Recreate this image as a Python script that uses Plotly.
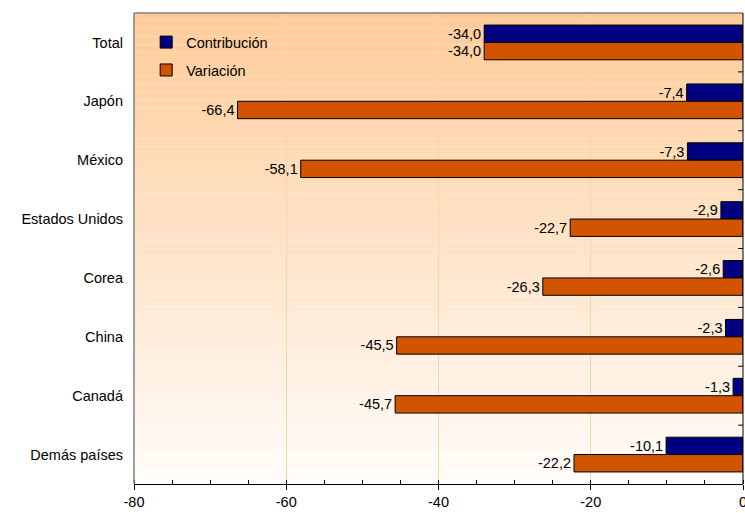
import plotly.graph_objects as go

categories = ["Total", "Japón", "México", "Estados Unidos", "Corea", "China", "Canadá", "Demás países"]
contribucion = [-34.0, -7.4, -7.3, -2.9, -2.6, -2.3, -1.3, -10.1]
variacion = [-34.0, -66.4, -58.1, -22.7, -26.3, -45.5, -45.7, -22.2]
x_ticks = [-80, -60, -40, -20, 0]

FONT = "Liberation Sans, Arial, sans-serif"

def fmt(v):
    return f"{v:.1f}".replace(".", ",")

fig = go.Figure()
fig.add_trace(go.Bar(
    y=categories, x=contribucion, orientation="h", name="Contribución",
    legendgroup="c",
    marker=dict(color="#000080", line=dict(color="#000000", width=1)),
    text=[fmt(v) for v in contribucion], textposition="outside",
    textfont=dict(family=FONT, size=14.5, color="#000000"), cliponaxis=False,
))
fig.add_trace(go.Bar(
    y=categories, x=variacion, orientation="h", name="Variación",
    legendgroup="v",
    marker=dict(color="#D35400", line=dict(color="#000000", width=1)),
    text=[fmt(v) for v in variacion], textposition="outside",
    textfont=dict(family=FONT, size=14.5, color="#000000"), cliponaxis=False,
))

# vertical gradient background
shapes = []
n = 60
top = (255, 204, 153)
bot = (255, 252, 249)
for i in range(n):
    t = i / (n - 1)
    c = tuple(round(top[k] + (bot[k] - top[k]) * t) for k in range(3))
    shapes.append(dict(type="rect", xref="paper", yref="paper", layer="below",
                       x0=0, x1=1, y0=1 - (i + 1) / n, y1=1 - i / n,
                       fillcolor=f"rgb{c}", line=dict(width=0)))
# plot border: gray left/top, black right (value axis at 0)
shapes.append(dict(type="line", xref="paper", yref="paper", x0=0, x1=0, y0=0, y1=1,
                   line=dict(color="#808080", width=1.5)))
shapes.append(dict(type="line", xref="paper", yref="paper", x0=0, x1=1, y0=1, y1=1,
                   line=dict(color="#808080", width=1.5)))
shapes.append(dict(type="line", xref="paper", yref="paper", x0=1, x1=1, y0=0, y1=1,
                   line=dict(color="#000000", width=1)))
# category separator ticks on the zero axis
for i in range(len(categories) - 1):
    shapes.append(dict(type="line", xref="paper", yref="y", x0=0.992, x1=1,
                       y0=i + 0.5, y1=i + 0.5, line=dict(color="#000000", width=1)))

fig.update_layout(
    width=745, height=513,
    margin=dict(l=134, r=2, t=13, b=29, autoexpand=False),
    paper_bgcolor="#FFFFFF", plot_bgcolor="rgba(0,0,0,0)",
    barmode="group", bargap=0.41, bargroupgap=0,
    font=dict(family=FONT, size=14.5, color="#000000"),
    showlegend=True,
    legend=dict(x=0.02, y=0.972, xanchor="left", yanchor="top",
                bgcolor="rgba(0,0,0,0)", font=dict(size=14.5),
                traceorder="grouped", tracegroupgap=6),
    shapes=shapes,
    xaxis=dict(range=[-80, 0], tickvals=x_ticks, ticktext=[str(v) for v in x_ticks],
               showgrid=True, gridcolor="#FFD3A8", gridwidth=1, zeroline=False,
               showline=True, linecolor="#000000", linewidth=1,
               ticks="outside", ticklen=5, tickcolor="#000000",
               minor=dict(dtick=5, ticks="inside", ticklen=4, tickcolor="#000000", showgrid=False),
               tickfont=dict(size=14.5), fixedrange=True, automargin=False,
               ticklabeloverflow="allow"),
    yaxis=dict(categoryorder="array", categoryarray=categories, autorange="reversed",
               showgrid=False, zeroline=False, showline=False, ticks="",
               ticklabelstandoff=10, tickfont=dict(size=14.5), automargin=False),
)

fig.write_html(
    "out.html",
    config={"displayModeBar": False},
    post_script="document.body.style.margin='0';document.body.style.overflow='hidden';",
)
